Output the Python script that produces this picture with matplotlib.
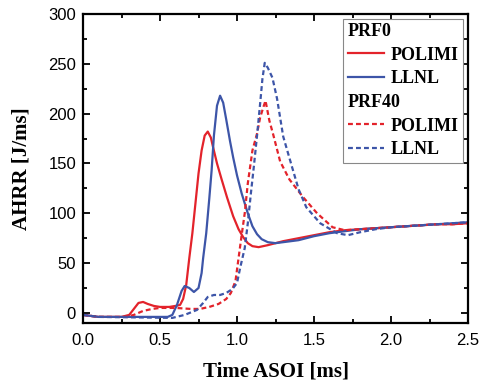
import matplotlib
matplotlib.use("Agg")
import matplotlib.pyplot as plt
from matplotlib.lines import Line2D
from matplotlib.ticker import MultipleLocator, FormatStrFormatter

# ---- data ----
t_polimi_prf0 = [0.00, 0.10, 0.25, 0.30, 0.33, 0.36, 0.39, 0.42, 0.46, 0.50, 0.56, 0.60, 0.63, 0.65,
                 0.67, 0.69, 0.71, 0.73, 0.75, 0.77, 0.79, 0.81, 0.83, 0.845, 0.87, 0.90, 0.935,
                 0.975, 1.01, 1.04, 1.07, 1.10, 1.14, 1.20, 1.30, 1.40, 1.50, 1.60, 1.70, 1.80,
                 1.90, 2.00, 2.10, 2.20, 2.30, 2.40, 2.50]
y_polimi_prf0 = [-2, -4, -4, -2, 4, 10, 11, 9, 7, 6, 6, 7, 8, 14,
                 28, 55, 80, 110, 140, 163, 178, 182, 176, 166, 150, 134, 116,
                 97, 84, 76, 70, 67, 66, 68, 72, 75, 78, 81, 83, 84,
                 85, 86, 87, 88, 89, 89, 90]

t_llnl_prf0 = [0.00, 0.10, 0.55, 0.58, 0.61, 0.64, 0.66, 0.69, 0.72, 0.75, 0.77, 0.78, 0.80, 0.82,
               0.835, 0.85, 0.87, 0.89, 0.91, 0.93, 0.955, 0.975, 1.00, 1.03, 1.07, 1.10, 1.13,
               1.16, 1.20, 1.25, 1.30, 1.40, 1.50, 1.60, 1.70, 1.80, 1.90, 2.00, 2.10, 2.20,
               2.30, 2.40, 2.50]
y_llnl_prf0 = [-2, -4, -4, -2, 8, 22, 27, 25, 21, 25, 40, 55, 80, 115,
               143, 178, 208, 218, 211, 194, 172, 156, 138, 120, 100, 87, 79,
               74, 71, 70, 71, 73, 77, 80, 82, 84, 85, 86, 87, 88,
               89, 90, 91]

t_polimi_prf40 = [0.00, 0.10, 0.28, 0.33, 0.39, 0.45, 0.50, 0.60, 0.70, 0.76, 0.82, 0.88, 0.93,
                  0.96, 0.99, 1.01, 1.03, 1.05, 1.07, 1.10, 1.13, 1.15, 1.17, 1.185, 1.21,
                  1.235, 1.28, 1.34, 1.43, 1.52, 1.62, 1.70, 1.80, 1.90, 2.00, 2.10, 2.20,
                  2.30, 2.40, 2.50]
y_polimi_prf40 = [-2, -4, -4, -2, 2, 4, 5, 5, 4, 4, 6, 9, 14,
                  20, 32, 55, 78, 100, 130, 163, 180, 196, 206, 213, 193,
                  179, 152, 134, 116, 100, 86, 83, 84, 85, 86, 87, 88,
                  89, 89, 90]

t_llnl_prf40 = [0.00, 0.10, 0.58, 0.66, 0.74, 0.78, 0.81, 0.85, 0.89, 0.93, 0.97, 1.00, 1.02,
                1.05, 1.07, 1.09, 1.11, 1.13, 1.15, 1.165, 1.18, 1.20, 1.23, 1.26, 1.30,
                1.36, 1.40, 1.45, 1.54, 1.65, 1.72, 1.80, 1.90, 2.00, 2.10, 2.20, 2.30,
                2.40, 2.50]
y_llnl_prf40 = [-2, -4, -5, -2, 3, 10, 16, 18, 18, 20, 24, 30, 45,
                65, 90, 120, 148, 178, 210, 235, 251, 246, 236, 215, 177,
                145, 124, 106, 90, 80, 78, 81, 84, 86, 87, 88, 89,
                90, 91]

labels = ["PRF0", "POLIMI", "LLNL", "PRF40", "POLIMI", "LLNL"]
xlabel = "Time ASOI [ms]"
ylabel = "AHRR [J/ms]"

RED = "#e3232b"
BLUE = "#3d55a8"

plt.rcParams["font.family"] = ["Liberation Sans", "DejaVu Sans"]
fig = plt.figure(figsize=(4.8, 3.89), dpi=100)
ax = fig.add_axes([0.173, 0.170, 0.802, 0.794])

lw = 1.6
dash = (0, (2.2, 1.4))
ax.plot(t_polimi_prf0, y_polimi_prf0, color=RED, lw=lw)
ax.plot(t_llnl_prf0, y_llnl_prf0, color=BLUE, lw=lw)
ax.plot(t_polimi_prf40, y_polimi_prf40, color=RED, lw=lw, ls=dash)
ax.plot(t_llnl_prf40, y_llnl_prf40, color=BLUE, lw=lw, ls=dash)

ax.set_xlim(0, 2.5)
ax.set_ylim(-10, 300)
ax.xaxis.set_major_locator(MultipleLocator(0.5))
ax.xaxis.set_minor_locator(MultipleLocator(0.25))
ax.yaxis.set_major_locator(MultipleLocator(50))
ax.yaxis.set_minor_locator(MultipleLocator(25))
ax.xaxis.set_major_formatter(FormatStrFormatter("%.1f"))
ax.tick_params(which="both", direction="in", top=True, right=True, width=1.3)
ax.tick_params(which="major", length=5, labelsize=12, pad=5)
ax.tick_params(which="minor", length=3)
ax.tick_params(axis="x", pad=7)
for s in ax.spines.values():
    s.set_linewidth(1.6)

serif = ["Liberation Serif", "DejaVu Serif"]
ax.set_xlabel(xlabel, fontsize=15, fontweight="bold", family=serif, labelpad=10)
ax.set_ylabel(ylabel, fontsize=15, fontweight="bold", family=serif, labelpad=12)

blank = Line2D([], [], lw=0)
handles = [blank,
           Line2D([], [], color=RED, lw=lw),
           Line2D([], [], color=BLUE, lw=lw),
           blank,
           Line2D([], [], color=RED, lw=lw, ls=dash),
           Line2D([], [], color=BLUE, lw=lw, ls=dash)]
leg = ax.legend(handles, labels, loc="upper right", fancybox=False, framealpha=1,
                edgecolor="#888888", borderaxespad=0.25, borderpad=0.25,
                handlelength=2.0, handletextpad=0.4, labelspacing=0.37,
                prop={"family": serif, "weight": "bold", "size": 13})
leg.get_frame().set_linewidth(0.8)
try:
    items = leg._legend_handle_box.get_children()[0].get_children()
    for i in (0, 3):
        items[i].get_children()[0].width = 0
        items[i].sep = 0
except Exception:
    pass

fig.savefig("out.png", dpi=100)
